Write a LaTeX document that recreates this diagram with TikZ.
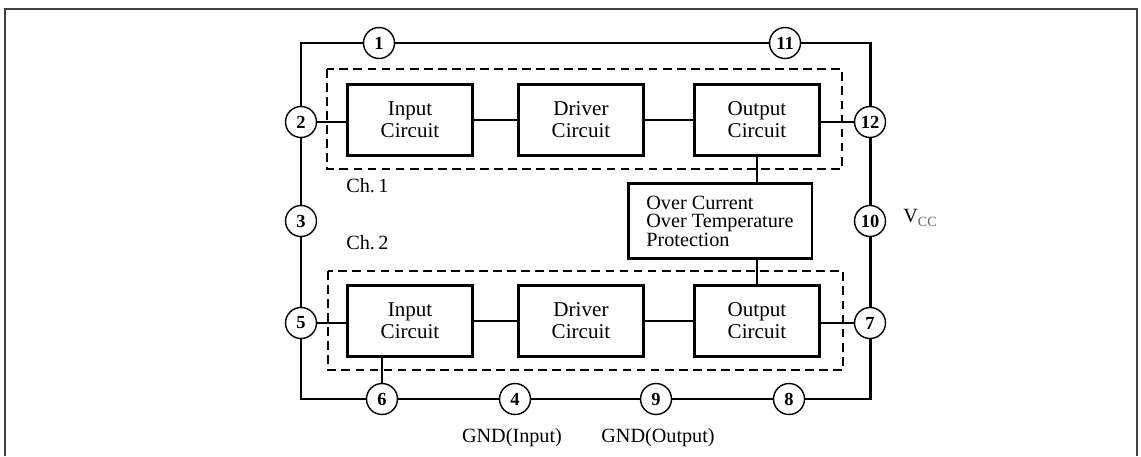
\documentclass[tikz,border=0pt]{standalone}
\usepackage{fontspec}
\setmainfont{Liberation Serif}
\begin{document}
\begin{tikzpicture}[
                x=0.02cm, y=-0.02cm,
                block/.style={draw, line width=1.7pt, minimum width=2.5cm, minimum height=1.42cm,
                        inner sep=0pt, align=center, font=\fontsize{12}{12.5}\selectfont},
                pin/.style={circle, draw, fill=white, line width=0.8pt, minimum size=0.62cm,
                        inner sep=0pt, font=\fontsize{10.5}{10.5}\selectfont\bfseries},
                chan/.style={draw, line width=0.9pt, dash pattern=on 5pt off 3pt},
                outline/.style={line width=1.7pt},
                wire/.style={line width=0.9pt},
                note/.style={inner sep=0pt, font=\fontsize{11.5}{12}\selectfont}
            ]
            \useasboundingbox (0,0) rectangle (1141,456);
            \draw[line width=0.6pt, black!75] (5,456) -- (5,9) -- (1137,9) -- (1137,456);

            % channel frames
            \draw[chan] (327,69) rectangle (842,169);
            \draw[chan] (328,271) rectangle (843,370);
            \node[note, anchor=west] (ch1) at (346,186) {Ch.\,1};
            \node[note, anchor=west] (ch2) at (346,243) {Ch.\,2};

            % channel 1
            \node[block] (in1) at (410,120) {Input\\Circuit};
            \node[block] (dr1) at (581,120) {Driver\\Circuit};
            \node[block] (out1) at (757,120) {Output\\Circuit};

            % protection
            \node[block, minimum width=3.68cm, minimum height=1.5cm, align=left,
                font=\fontsize{11.5}{10.5}\selectfont] (prot) at (720,221)
                {Over Current\\Over Temperature\\Protection};

            % channel 2
            \node[block] (in2) at (410,321) {Input\\Circuit};
            \node[block] (dr2) at (581,321) {Driver\\Circuit};
            \node[block] (out2) at (757,321) {Output\\Circuit};

            % pins
            \node[pin] (p1) at (379,43) {1};
            \node[pin] (p11) at (785,43) {11};
            \node[pin] (p2) at (301,122) {2};
            \node[pin] (p3) at (301,221) {3};
            \node[pin] (p5) at (301,323) {5};
            \node[pin] (p12) at (870,122) {12};
            \node[pin] (p10) at (870,221) {10};
            \node[pin] (p7) at (870,323) {7};
            \node[pin] (p6) at (382,399) {6};
            \node[pin] (p4) at (515,399) {4};
            \node[pin] (p9) at (656,399) {9};
            \node[pin] (p8) at (789,399) {8};

            % package outline
            \draw[outline] (p1) -| (p2);
            \draw[outline] (p2) -- (p3);
            \draw[outline] (p3) -- (p5);
            \draw[outline] (p5) |- (p6);
            \draw[outline] (p6) -- (p4);
            \draw[outline] (p4) -- (p9);
            \draw[outline] (p9) -- (p8);
            \draw[outline] (p8) -| (p7);
            \draw[outline] (p7) -- (p10);
            \draw[outline] (p10) -- (p12);
            \draw[outline] (p12) |- (p11);
            \draw[outline] (p11) -- (p1);

            % signal wires
            \draw[wire] (p2) -- (p2 -| in1.west);
            \draw[wire] (in1) -- (dr1);
            \draw[wire] (dr1) -- (out1);
            \draw[wire] (p12 -| out1.east) -- (p12);
            \draw[wire] (out1.south) -- (out1.south |- prot.north);
            \draw[wire] (out2.north |- prot.south) -- (out2.north);
            \draw[wire] (p5) -- (p5 -| in2.west);
            \draw[wire] (in2) -- (dr2);
            \draw[wire] (dr2) -- (out2);
            \draw[wire] (p7 -| out2.east) -- (p7);
            \draw[wire] (p6 |- in2.south) -- (p6);

            % supply and ground names
            \node[note, anchor=west] (vcc) at (903,218)
                {V\raisebox{-2pt}{\fontsize{8}{8}\selectfont\color{black!60}CC}};
            \node[note] (gndin) at (512,438) {GND(Input)};
            \node[note] (gndout) at (658,438) {GND(Output)};
        \end{tikzpicture}
\end{document}
